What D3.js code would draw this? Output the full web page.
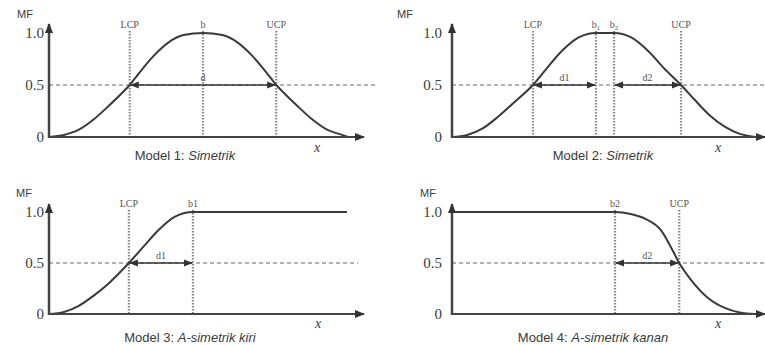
<!DOCTYPE html>
<html>
<head>
<meta charset="utf-8">
<script src="https://cdn.jsdelivr.net/npm/d3@7"></script>
<style>
  body { margin: 0; background: #fff; }
  svg { display: block; }
  .tick text { font-family: "Liberation Serif", serif; font-size: 15px; fill: #3a3a3a; }
  .title { font-family: "Liberation Sans", Arial, sans-serif; font-size: 13px; fill: #3a3a3a; }
  .mf { font-family: "Liberation Sans", Arial, sans-serif; font-size: 11px; fill: #3a3a3a; }
  .mark { font-family: "Liberation Serif", serif; font-size: 10px; fill: #555; }
  .xlab { font-family: "Liberation Serif", serif; font-size: 14px; font-style: italic; fill: #3a3a3a; }
</style>
</head>
<body>
<div id="chart-container"></div>
<script>
// membership values (x in 0..10, 0 = y axis, 10 = end of curve)
let m1X = [0, 0.5, 1.0, 1.5, 2.0, 2.5, 2.7, 3.0, 3.5, 4.0, 4.5, 5.15, 5.8, 6.3, 6.8, 7.3, 7.6, 7.8, 8.3, 8.8, 9.3, 9.8, 10];
let m1Y = [0, 0.02, 0.07, 0.17, 0.3, 0.44, 0.5, 0.61, 0.78, 0.91, 0.98, 1, 0.98, 0.91, 0.78, 0.61, 0.5, 0.44, 0.3, 0.17, 0.07, 0.02, 0];

let m2X = [0, 0.5, 1.0, 1.5, 2.0, 2.67, 3.1, 3.6, 4.2, 4.75, 5.35, 5.9, 6.5, 7.0, 7.56, 8.0, 8.5, 9.0, 9.5, 10];
let m2Y = [0, 0.02, 0.08, 0.19, 0.32, 0.5, 0.65, 0.82, 0.96, 1, 1, 0.96, 0.82, 0.66, 0.5, 0.36, 0.21, 0.1, 0.03, 0];

let m3X = [0, 0.5, 1.0, 1.5, 2.0, 2.68, 3.2, 3.7, 4.2, 4.83, 10];
let m3Y = [0, 0.02, 0.08, 0.18, 0.3, 0.5, 0.67, 0.83, 0.95, 1, 1];

let m4X = [0, 5.38, 5.9, 6.4, 6.9, 7.2, 7.5, 7.9, 8.4, 9.0, 9.5, 10];
let m4Y = [1, 1, 0.98, 0.93, 0.82, 0.67, 0.5, 0.33, 0.17, 0.06, 0.015, 0];

// vertical reference lines (LCP, b, UCP)
let m1Marks = [{x: 2.7, label: 'LCP'}, {x: 5.15, label: 'b'}, {x: 7.6, label: 'UCP'}];
let m2Marks = [{x: 2.67, label: 'LCP'}, {x: 4.75, label: 'b', sub: '1'}, {x: 5.35, label: 'b', sub: '2'}, {x: 7.56, label: 'UCP'}];
let m3Marks = [{x: 2.68, label: 'LCP'}, {x: 4.83, label: 'b1'}];
let m4Marks = [{x: 5.38, label: 'b2'}, {x: 7.5, label: 'UCP'}];

// width arrows at MF = 0.5
let m1Spans = [{from: 2.7, to: 7.6, label: 'd', at: 5.15}];
let m2Spans = [{from: 2.67, to: 4.75, label: 'd1'}, {from: 5.35, to: 7.56, label: 'd2'}];
let m3Spans = [{from: 2.68, to: 4.83, label: 'd1'}];
let m4Spans = [{from: 5.38, to: 7.5, label: 'd2'}];

let yTicks = [0, 0.5, 1];
let yTickLabels = ['0', '0.5', '1.0'];

let titles = [
    ['Model 1: ', 'Simetrik'],
    ['Model 2: ', 'Simetrik'],
    ['Model 3: ', 'A-simetrik kiri'],
    ['Model 4: ', 'A-simetrik kanan']
];

let panels = [
    {xs: m1X, ys: m1Y, marks: m1Marks, spans: m1Spans, title: titles[0],
     left: 49, right: 348, y0: 137, y1: 33, yTip: 24, xTip: 364, dashEnd: 376, mfX: 25, titleX: 185, titleY: 160, xLabX: 317, xLabY: 152},
    {xs: m2X, ys: m2Y, marks: m2Marks, spans: m2Spans, title: titles[1],
     left: 452, right: 755, y0: 137, y1: 33, yTip: 24, xTip: 765, dashEnd: 765, mfX: 405, titleX: 603, titleY: 160, xLabX: 718, xLabY: 152},
    {xs: m3X, ys: m3Y, marks: m3Marks, spans: m3Spans, title: titles[2],
     left: 49, right: 347, y0: 314, y1: 212, yTip: 204, xTip: 364, dashEnd: 358, mfX: 24, titleX: 190, titleY: 342, xLabX: 318, xLabY: 328},
    {xs: m4X, ys: m4Y, marks: m4Marks, spans: m4Spans, title: titles[3],
     left: 452, right: 755, y0: 314, y1: 212, yTip: 204, xTip: 765, dashEnd: 765, mfX: 428, titleX: 593, titleY: 342, xLabX: 718, xLabY: 328}
];

let svg = d3.select('#chart-container').append('svg')
    .attr('width', 765)
    .attr('height', 345);

let defs = svg.append('defs');
function arrowMarker(id, color, size) {
    defs.append('marker')
        .attr('id', id)
        .attr('viewBox', '0 -5 10 10')
        .attr('refX', 9)
        .attr('refY', 0)
        .attr('markerWidth', size)
        .attr('markerHeight', size)
        .attr('markerUnits', 'userSpaceOnUse')
        .attr('orient', 'auto-start-reverse')
        .append('path')
        .attr('d', 'M0,-4L10,0L0,4Z')
        .attr('fill', color);
}
arrowMarker('axis-arrow', '#333', 10);
arrowMarker('span-arrow', '#333', 9);

panels.forEach(function(p) {
    let x = d3.scaleLinear().domain([0, 10]).range([p.left, p.right]);
    let y = d3.scaleLinear().domain([0, 1]).range([p.y0, p.y1]);
    let g = svg.append('g');

    // dashed 0.5 line
    g.append('line')
        .attr('x1', p.left).attr('x2', p.dashEnd)
        .attr('y1', y(0.5)).attr('y2', y(0.5))
        .attr('stroke', '#666')
        .attr('stroke-width', 1)
        .attr('stroke-dasharray', '4,3');

    // vertical dotted lines
    g.selectAll('line.vref')
        .data(p.marks)
        .enter().append('line')
        .attr('class', 'vref')
        .attr('x1', function(d) { return x(d.x); })
        .attr('x2', function(d) { return x(d.x); })
        .attr('y1', y(1) - 2)
        .attr('y2', y(0))
        .attr('stroke', '#888')
        .attr('stroke-width', 2.2)
        .attr('stroke-dasharray', '1.5,1.5');

    let lab = g.selectAll('text.mark')
        .data(p.marks)
        .enter().append('text')
        .attr('class', 'mark')
        .attr('x', function(d) { return x(d.x); })
        .attr('y', y(1) - 5)
        .attr('text-anchor', 'middle')
        .text(function(d) { return d.label; });
    lab.filter(function(d) { return d.sub; })
        .append('tspan')
        .attr('font-size', '7px')
        .attr('dy', 2)
        .text(function(d) { return d.sub; });

    // width arrows
    g.selectAll('line.span')
        .data(p.spans)
        .enter().append('line')
        .attr('class', 'span')
        .attr('x1', function(d) { return x(d.from) + 1; })
        .attr('x2', function(d) { return x(d.to) - 1; })
        .attr('y1', y(0.5)).attr('y2', y(0.5))
        .attr('stroke', '#333')
        .attr('stroke-width', 1.3)
        .attr('marker-start', 'url(#span-arrow)')
        .attr('marker-end', 'url(#span-arrow)');

    g.selectAll('text.span')
        .data(p.spans)
        .enter().append('text')
        .attr('class', 'mark')
        .attr('x', function(d) { return x(d.at !== undefined ? d.at : (d.from + d.to) / 2); })
        .attr('y', y(0.5) - 4)
        .attr('text-anchor', 'middle')
        .text(function(d) { return d.label; });

    // membership curve
    let pts = p.xs.map(function(v, i) { return [v, p.ys[i]]; });
    let line = d3.line()
        .x(function(d) { return x(d[0]); })
        .y(function(d) { return y(d[1]); })
        .curve(d3.curveMonotoneX);
    g.append('path')
        .datum(pts)
        .attr('d', line)
        .attr('fill', 'none')
        .attr('stroke', '#3a3a3a')
        .attr('stroke-width', 2);

    // axes
    g.append('line')
        .attr('x1', p.left).attr('x2', p.xTip)
        .attr('y1', y(0)).attr('y2', y(0))
        .attr('stroke', '#444')
        .attr('stroke-width', 2)
        .attr('marker-end', 'url(#axis-arrow)');
    g.append('line')
        .attr('x1', p.left).attr('x2', p.left)
        .attr('y1', y(0) + 1).attr('y2', p.yTip)
        .attr('stroke', '#444')
        .attr('stroke-width', 2.5)
        .attr('marker-end', 'url(#axis-arrow)');

    let yAxis = d3.axisLeft(y)
        .tickValues(yTicks)
        .tickSize(0)
        .tickPadding(p.left > 400 ? 10 : 5)
        .tickFormat(function(d, i) { return yTickLabels[i]; });
    let ax = g.append('g')
        .attr('transform', 'translate(' + p.left + ',0)')
        .call(yAxis);
    ax.select('.domain').remove();

    g.append('text')
        .attr('class', 'mf')
        .attr('x', p.mfX)
        .attr('y', p.y1 - 15)
        .attr('text-anchor', 'middle')
        .text('MF');

    g.append('text')
        .attr('class', 'xlab')
        .attr('x', p.xLabX)
        .attr('y', p.xLabY)
        .attr('text-anchor', 'middle')
        .text('x');

    let t = g.append('text')
        .attr('class', 'title')
        .attr('x', p.titleX)
        .attr('y', p.titleY)
        .attr('text-anchor', 'middle');
    t.append('tspan').text(p.title[0]);
    t.append('tspan').attr('font-style', 'italic').text(p.title[1]);
});
</script>
</body>
</html>
